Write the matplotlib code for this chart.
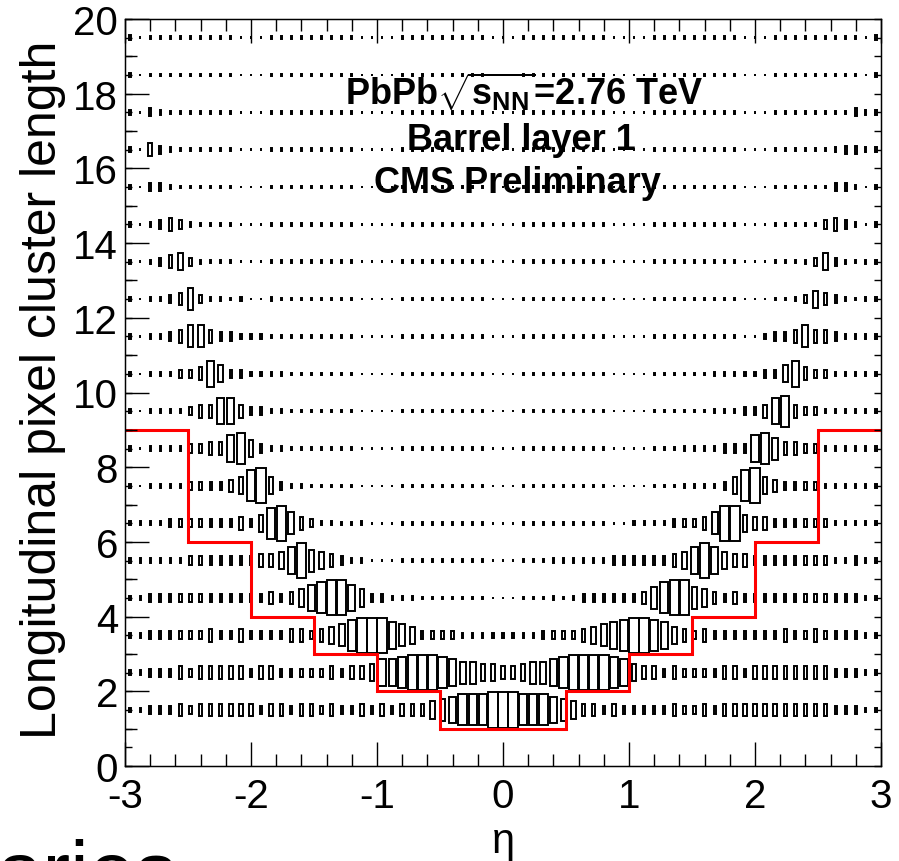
import numpy as np
import matplotlib
matplotlib.use('Agg')
import matplotlib.pyplot as plt
from matplotlib.ticker import MultipleLocator

plt.rcParams['font.family'] = ['Liberation Sans', 'DejaVu Sans']
plt.rcParams['axes.unicode_minus'] = False
plt.rcParams['mathtext.fontset'] = 'custom'
plt.rcParams['mathtext.rm'] = 'Liberation Sans:bold'
plt.rcParams['mathtext.it'] = 'Liberation Sans:bold'
plt.rcParams['mathtext.bf'] = 'Liberation Sans:bold'

# eta binning of the 2D histogram (75 bins, -3..3)
eta_lo, eta_hi, n_eta = -3.0, 3.0, 75
bin_w = (eta_hi - eta_lo) / n_eta
eta_centers = eta_lo + bin_w * (np.arange(n_eta) + 0.5)

# box size per cell, one string per cluster length (1..19)
# digit = box size class (1 = tiny dot ... 9 = full cell)
cluster_lengths = list(range(1, 20))
box_rows = [
    "2233343444 4443443443 4334343444 5678889998 8876544343 3333433434 4444444444 33322",  # 1
    "2233343444 4434433333 4344577899 9876655445 6678999987 5443433334 4344444444 33322",  # 2
    "2233333343 3433334434 5689997653 3332222222 2333345678 9987543433 3333343343 33322",  # 3
    "2233333333 3333434578 9975332221 1111111111 1121233333 3468996543 4333333333 33322",  # 4
    "2222223333 3334457965 4322111111 1111111111 1122222233 3333457975 4433333333 22322",  # 5
    "2222333333 3435896432 2112111111 1111111111 1111111111 2222333469 9544333333 22222",  # 6
    "2122223333 4589532211 1111111111 1111111111 1111111111 1111122223 5895433332 22222",  # 7
    "2122223344 7853221111 1111111111 1111111111 1111111111 1111122223 3378644332 22222",  # 8
    "2122223447 7433221111 1111111111 1111111111 1111111111 1111111122 2334784332 22222",  # 9
    "2122233475 3322221111 1111111111 1111111111 1111111111 1111111122 2223357433 22222",  # 10
    "2122346643 3222111111 1111111111 1111111111 1111111111 1111111111 1112334644 32222",  # 11
    "2122346322 1211211111 1111111111 1111111111 1111111111 1111111111 1111112354 32122",  # 12
    "2123453211 1111111111 1111111111 1111111111 1111111111 1111111111 1111111235 32122",  # 13
    "2123432111 1111111111 1111111111 1111111111 1111111111 1111111111 1111111113 43212",  # 14
    "2133211111 1111111111 1111111111 1111111111 1111111111 1111111111 1111111111 33212",  # 15
    "2143211111 1111111111 1111111111 1111111111 1111111111 1111111111 1111111111 23322",  # 16
    "2132111111 1111111111 1111111111 1111111111 1111111111 1111111111 1111111111 11322",  # 17
    "2111111111 1111111111 1111111111 1111111111 1111111111 1111111111 1111111111 11112",  # 18
    "2111111111 1111111111 1111111111 1111111111 1111111111 1111111111 1111111111 11112",  # 19
]
# relative box edge (fraction of the cell) for each size class
size_levels = np.array([0.0, 0.07, 0.12, 0.22, 0.34, 0.46, 0.59, 0.71, 0.83, 0.94])

# red cut line
cut_edges = [-3, -2.5, -2, -1.5, -1, -0.5, 0.5, 1, 1.5, 2, 2.5, 3]
cut_values = [9, 6, 4, 3, 2, 1, 2, 3, 4, 6, 9]

fig = plt.figure(figsize=(8.99, 8.62), dpi=100)
ax = fig.add_axes([125/899, 95/862, 756/899, 747/862])

# draw the boxes row by row (ROOT "BOX" style)
for length, row in zip(cluster_lengths, box_rows):
    codes = np.array([int(c) for c in row.replace(' ', '')])
    s = size_levels[codes]
    yc = length + 0.5
    ax.bar(eta_centers, s * 1.0, width=s * bin_w, bottom=yc - s / 2,
           fill=False, edgecolor='black', linewidth=1.4, align='center')

ax.stairs(cut_values, cut_edges, baseline=None, color='red', linewidth=2.2)

ax.set_xlim(-3, 3)
ax.set_ylim(0, 20)
ax.xaxis.set_major_locator(MultipleLocator(1))
ax.xaxis.set_minor_locator(MultipleLocator(0.2))
ax.yaxis.set_major_locator(MultipleLocator(2))
ax.yaxis.set_minor_locator(MultipleLocator(1))
ax.tick_params(which='both', direction='in', top=True, right=True, width=1.0)
ax.tick_params(which='major', length=17, labelsize=29)
ax.tick_params(which='minor', length=8.6)
ax.tick_params(axis='x', pad=8)
ax.tick_params(axis='y', pad=5)
for sp in ax.spines.values():
    sp.set_linewidth(1.0)

# third level of y ticks at the half units
tw = ax.twinx()
tw.set_ylim(0, 20)
tw.yaxis.set_major_locator(MultipleLocator(0.5))
tw.tick_params(axis='y', direction='in', length=5, width=1.0,
               left=True, right=True, labelleft=False, labelright=False)

ax.set_ylabel('Longitudinal pixel cluster length', fontsize=36)
ax.yaxis.set_label_coords(-0.078, 0.505)
ax.set_xlabel('η', fontsize=30)
ax.xaxis.set_label_coords(0.5, -0.074)

ax.text(0.167, 17.72, r'PbPb$\sqrt{s_{NN}}$=2.76 TeV', fontsize=26,
        fontweight='bold', ha='center', va='baseline')
ax.text(0.146, 16.52, 'Barrel layer 1', fontsize=26,
        fontweight='bold', ha='center', va='baseline')
ax.text(0.111, 15.37, 'CMS Preliminary', fontsize=26,
        fontweight='bold', ha='center', va='baseline')

# leftover of slide text under the plot
fig.text(-0.004, -0.044, 'aries', fontsize=60, ha='left', va='baseline')

fig.savefig('out.png', dpi=100)
